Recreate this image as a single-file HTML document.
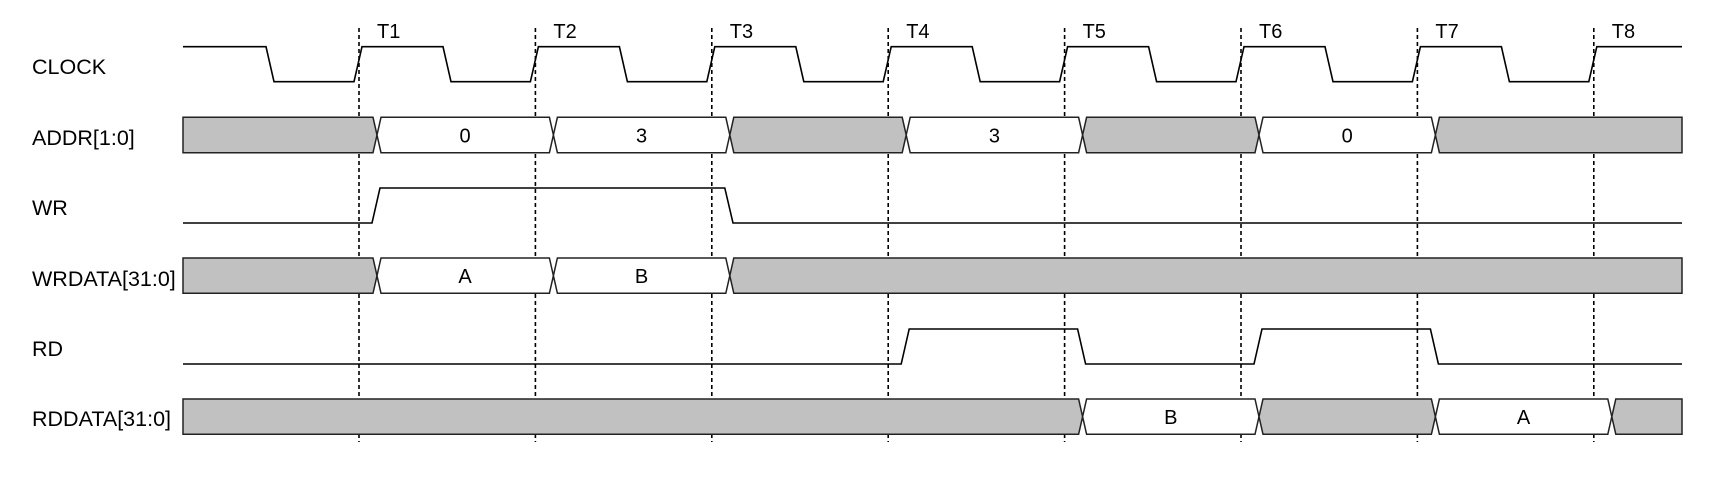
<!DOCTYPE html>
<html><head><meta charset="utf-8"><style>
html,body{margin:0;padding:0;background:#fff;}
svg{display:block;}
text{font-family:"Liberation Sans",Arial,sans-serif;fill:#000;}
</style></head><body>
<svg width="1730" height="484" viewBox="0 0 1730 484" xmlns="http://www.w3.org/2000/svg">
<g font-size="21.5">
<text x="32" y="74">CLOCK</text>
<text x="32" y="145">ADDR[1:0]</text>
<text x="32" y="215">WR</text>
<text x="32" y="286">WRDATA[31:0]</text>
<text x="32" y="356">RD</text>
<text x="32" y="426">RDDATA[31:0]</text>
</g>
<g stroke="#000" stroke-width="1.6" stroke-dasharray="4,3">
<line x1="359" y1="28" x2="359" y2="442"/>
<line x1="535.4" y1="28" x2="535.4" y2="442"/>
<line x1="711.8" y1="28" x2="711.8" y2="442"/>
<line x1="888.2" y1="28" x2="888.2" y2="442"/>
<line x1="1064.6" y1="28" x2="1064.6" y2="442"/>
<line x1="1241" y1="28" x2="1241" y2="442"/>
<line x1="1417.4" y1="28" x2="1417.4" y2="442"/>
<line x1="1593.8" y1="28" x2="1593.8" y2="442"/>
</g>
<g font-size="20">
<text x="377" y="38">T1</text>
<text x="553.4" y="38">T2</text>
<text x="729.8" y="38">T3</text>
<text x="906.2" y="38">T4</text>
<text x="1082.6" y="38">T5</text>
<text x="1259" y="38">T6</text>
<text x="1435.4" y="38">T7</text>
<text x="1611.8" y="38">T8</text>
</g>
<g fill="none" stroke="#000" stroke-width="1.6">
<path d="M183,46.7 L266,46.7 L274,81.7 L354,81.7 L362,46.7 L443,46.7 L451,81.7 L530.4,81.7 L538.4,46.7 L619.4,46.7 L627.4,81.7 L706.8,81.7 L714.8,46.7 L795.8,46.7 L803.8,81.7 L883.2,81.7 L891.2,46.7 L972.2,46.7 L980.2,81.7 L1059.6,81.7 L1067.6,46.7 L1148.6,46.7 L1156.6,81.7 L1236,81.7 L1244,46.7 L1325,46.7 L1333,81.7 L1412.4,81.7 L1420.4,46.7 L1501.4,46.7 L1509.4,81.7 L1588.8,81.7 L1596.8,46.7 L1682,46.7"/>
<path d="M183,223 L372,223 L380,188 L724.8,188 L733,223 L1682,223"/>
<path d="M183,364 L901.2,364 L909.2,329 L1077.6,329 L1085.6,364 L1254,364 L1262,329 L1430.4,329 L1438.4,364 L1682,364"/>
</g>
<g stroke="#222" stroke-width="1.5">
<polygon fill="#c0c1c0" points="183,117.3 373,117.3 377,135 373,152.7 183,152.7"/>
<polygon fill="#fff" points="377,135 381,117.3 549.4,117.3 553.4,135 549.4,152.7 381,152.7"/>
<polygon fill="#fff" points="553.4,135 557.4,117.3 725.8,117.3 729.8,135 725.8,152.7 557.4,152.7"/>
<polygon fill="#c0c1c0" points="729.8,135 733.8,117.3 902.2,117.3 906.2,135 902.2,152.7 733.8,152.7"/>
<polygon fill="#fff" points="906.2,135 910.2,117.3 1078.6,117.3 1082.6,135 1078.6,152.7 910.2,152.7"/>
<polygon fill="#c0c1c0" points="1082.6,135 1086.6,117.3 1255,117.3 1259,135 1255,152.7 1086.6,152.7"/>
<polygon fill="#fff" points="1259,135 1263,117.3 1431.4,117.3 1435.4,135 1431.4,152.7 1263,152.7"/>
<polygon fill="#c0c1c0" points="1435.4,135 1439.4,117.3 1682,117.3 1682,152.7 1439.4,152.7"/>
<polygon fill="#c0c1c0" points="183,258 373,258 377,275.7 373,293.3 183,293.3"/>
<polygon fill="#fff" points="377,275.7 381,258 549.4,258 553.4,275.7 549.4,293.3 381,293.3"/>
<polygon fill="#fff" points="553.4,275.7 557.4,258 725.8,258 729.8,275.7 725.8,293.3 557.4,293.3"/>
<polygon fill="#c0c1c0" points="729.8,275.7 733.8,258 1682,258 1682,293.3 733.8,293.3"/>
<polygon fill="#c0c1c0" points="183,399 1078.6,399 1082.6,416.7 1078.6,434.3 183,434.3"/>
<polygon fill="#fff" points="1082.6,416.7 1086.6,399 1255,399 1259,416.7 1255,434.3 1086.6,434.3"/>
<polygon fill="#c0c1c0" points="1259,416.7 1263,399 1431.4,399 1435.4,416.7 1431.4,434.3 1263,434.3"/>
<polygon fill="#fff" points="1435.4,416.7 1439.4,399 1607.8,399 1611.8,416.7 1607.8,434.3 1439.4,434.3"/>
<polygon fill="#c0c1c0" points="1611.8,416.7 1615.8,399 1682,399 1682,434.3 1615.8,434.3"/>
</g>
<g font-size="20" text-anchor="middle">
<text x="465" y="142.5">0</text>
<text x="641.6" y="142.5">3</text>
<text x="994.4" y="142.5">3</text>
<text x="1347.2" y="142.5">0</text>
<text x="465" y="283">A</text>
<text x="641.6" y="283">B</text>
<text x="1170.8" y="424">B</text>
<text x="1523.6" y="424">A</text>
</g>
</svg>
</body></html>
